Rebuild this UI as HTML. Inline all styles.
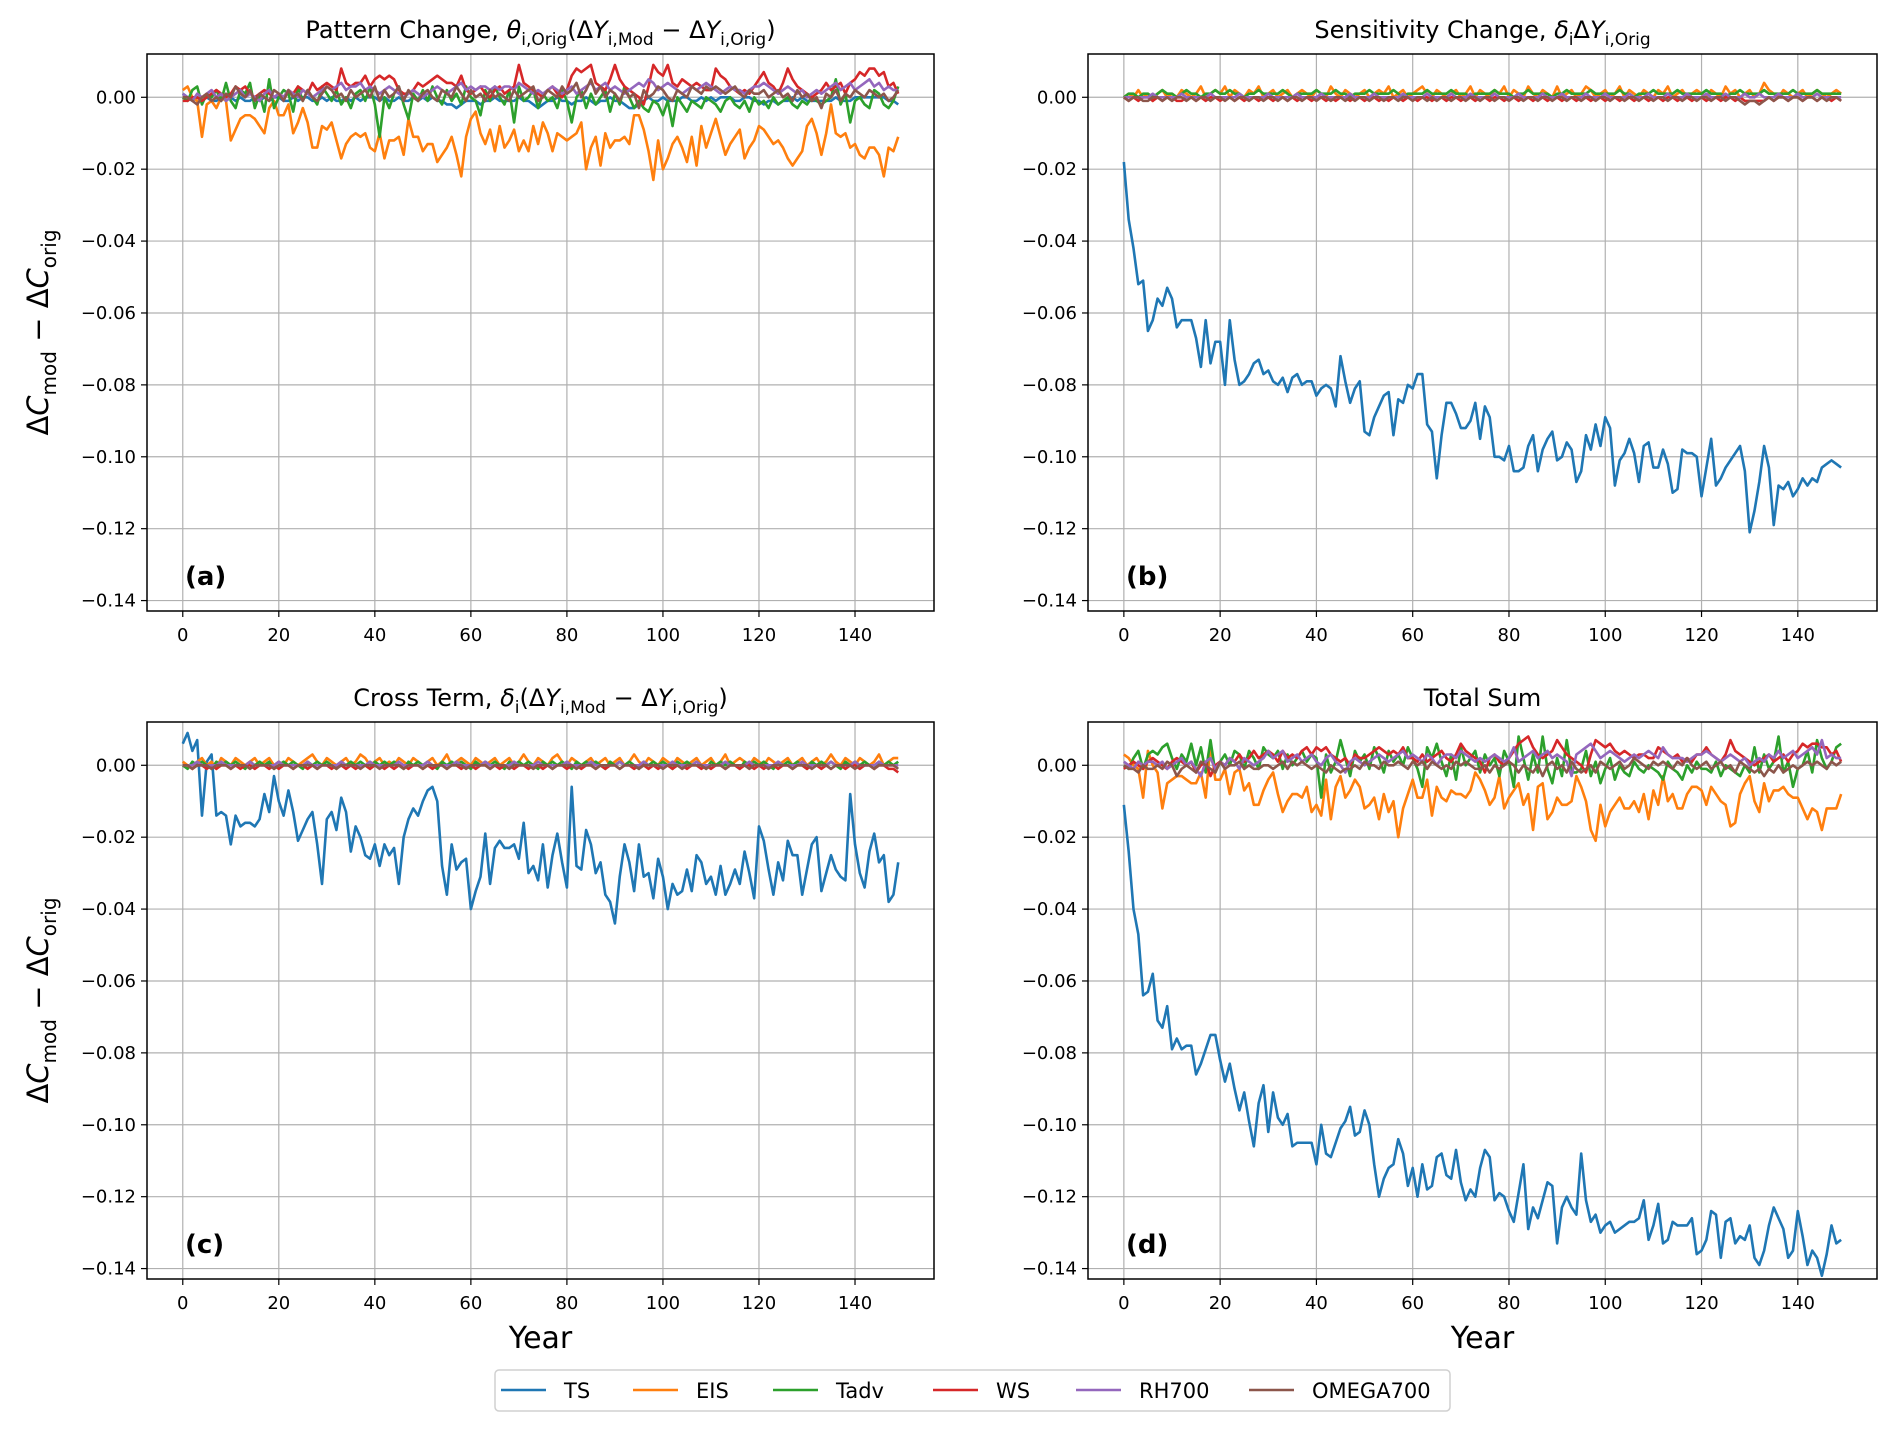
<!DOCTYPE html>
<html><head><meta charset="utf-8"><style>
html,body{margin:0;padding:0;background:#fff;}
svg{display:block;font-family:"DejaVu Sans","Liberation Sans",sans-serif;}
</style></head><body>
<svg id="fig" width="1892" height="1433" viewBox="0 0 1892 1433" xmlns="http://www.w3.org/2000/svg"></svg>
<script>
// values in thousandths (x 0.001)
const years = Array.from({length:150},(_,i)=>i);
const xTicks = [0,20,40,60,80,100,120,140];
const yTicks = [0,-0.02,-0.04,-0.06,-0.08,-0.10,-0.12,-0.14];
const yTickLabels = ["0.00","\u22120.02","\u22120.04","\u22120.06","\u22120.08","\u22120.10","\u22120.12","\u22120.14"];
const seriesNames = ["TS","EIS","Tadv","WS","RH700","OMEGA700"];
const seriesColors = ["#1f77b4","#ff7f0e","#2ca02c","#d62728","#9467bd","#8c564b"];

const aTS = [1,0,-1,0,-1,0,-1,-1,0,-1, 0,-1,0,-1,-1,0,-1,0,-1,0, 0,-1,-1,0,-1,0,0,-1,-1,0, -1,0,-1,-1,0,-1,0,-1,0,0, 0,-1,0,-1,-1,0,-1,-1,0,-1, 0,-1,0,-1,-1,-2,-2,-3,-2,-1, -1,-1,-2,-1,-1,0,-1,-1,-1,-1, 0,-1,-1,-2,-3,-2,-1,-1,0,-1, -1,-2,-1,-1,0,-1,-2,-1,-1,0, -1,-1,-2,-3,-3,-2,-1,0,-1,-1, 0,-1,-1,-1,0,0,-1,-1,0,-1, 0,-1,0,0,0,-1,-1,0,0,-1, -1,-2,-1,-1,-2,-1,-1,0,-1,0, -1,-1,-1,-1,-1,-1,0,-1,-1,-1, 0,0,0,0,0,0,0,-1,-1,-2];
const aEIS = [2,3,0,-1,-11,-2,-1,-3,0,-1, -12,-9,-6,-5,-5,-6,-8,-10,-3,-1, -5,-5,-2,-10,-7,-3,-7,-14,-14,-8, -9,-7,-12,-17,-13,-11,-10,-11,-10,-14, -15,-10,-17,-12,-12,-11,-16,-6,-11,-11, -15,-13,-13,-18,-16,-14,-11,-16,-22,-11, -6,-4,-10,-13,-9,-15,-8,-14,-12,-9, -15,-12,-15,-8,-13,-7,-10,-15,-10,-11, -12,-11,-10,-7,-20,-14,-11,-19,-10,-14, -12,-12,-11,-13,-5,-5,-9,-15,-23,-12, -20,-17,-13,-11,-14,-18,-11,-19,-8,-14, -10,-6,-11,-16,-13,-11,-9,-17,-14,-12, -8,-9,-11,-13,-12,-14,-17,-19,-17,-15, -8,-6,-10,-16,-10,-2,-10,-11,-10,-14, -13,-16,-17,-14,-14,-16,-22,-14,-15,-11];
const aTadv = [0,-1,2,3,-2,1,0,2,-1,4, -1,-3,2,1,4,-3,1,-4,5,-3, 0,2,1,-4,3,-1,2,0,-2,3, 1,-1,2,-2,0,-3,1,2,-1,3, -2,-11,0,-3,1,3,-2,-6,1,-1, 2,-1,3,0,-2,2,-1,1,-2,3, 0,-1,-5,2,-1,3,0,-2,2,-7, 3,-1,0,2,-3,1,-1,0,-3,2, -1,-7,0,2,-3,1,-2,0,2,-4, 1,-2,3,0,-3,-1,-3,-4,-1,-2, -5,-1,-8,0,-2,-4,-1,-2,-3,0, -1,-2,-4,-1,0,-2,-3,-1,-4,0, -2,-1,-3,0,-2,-1,0,-2,-3,-1, -2,0,-1,-2,-1,0,5,-2,1,-7, -1,0,-2,-3,2,1,-2,-3,-1,3];
const aWS = [-1,-1,0,0,-1,0,1,2,1,0, 1,3,2,3,1,0,1,2,1,0, 1,0,2,1,3,2,1,4,2,3, 4,3,2,8,4,3,4,4,6,3, 5,6,5,6,5,2,1,1,2,4, 3,4,5,6,5,4,4,3,6,2, 1,2,3,1,0,2,3,1,2,3, 9,4,3,2,1,0,2,3,1,0, 2,6,8,7,8,9,4,3,2,5, 9,5,3,2,1,0,-2,3,9,7, 6,9,4,3,5,4,3,4,3,2, 2,8,6,5,3,2,1,2,1,3, 5,7,4,3,1,4,8,5,3,2, 1,0,1,2,4,2,3,4,1,4, 5,7,6,8,8,6,7,3,4,1];
const aRH = [1,0,-1,1,0,1,2,0,1,-1, 0,1,2,0,1,0,-1,1,2,0, 1,0,2,1,0,2,1,0,1,2, 3,2,3,4,2,3,3,4,2,3, 2,1,2,3,2,1,0,1,2,1, 0,1,2,3,2,1,2,3,4,2, 3,2,3,3,2,3,2,3,3,2, 4,3,2,1,2,1,2,3,2,1, 2,3,1,2,3,4,2,3,4,2, 3,2,1,2,3,4,3,5,4,2, 3,4,3,2,1,2,3,2,3,4, 3,2,1,2,3,2,2,1,2,3, 3,4,3,2,1,2,3,2,1,2, 0,1,2,1,2,3,4,2,3,4, 2,3,4,5,3,4,2,3,2,2];
const aOM = [0,0,-1,-2,0,1,-1,0,-1,1, 0,3,1,0,2,-1,1,0,-1,2, 1,-1,2,0,1,-1,2,0,-1,1, 3,2,0,1,-1,2,0,1,2,0, 3,-1,2,0,1,3,-1,2,0,-1, 1,2,0,-1,2,1,0,3,1,-1, 2,0,1,-1,2,0,1,0,-1,2, 0,1,2,3,-1,0,2,1,0,3, 1,2,4,0,2,5,1,3,0,2, 1,-1,2,0,1,-3,2,0,1,3, 2,0,-1,2,1,0,3,2,1,3, 2,3,2,1,2,3,1,0,2,1, 1,2,0,1,2,0,1,-1,2,0, 1,-1,0,-3,1,0,2,-1,1,0, 2,1,0,2,1,0,1,-1,0,2];

const bTS = [-18,-34,-42,-52,-51,-65,-62,-56,-58,-53, -56,-64,-62,-62,-62,-67,-75,-62,-74,-68, -68,-80,-62,-73,-80,-79,-77,-74,-73,-77, -76,-79,-80,-78,-82,-78,-77,-80,-79,-79, -83,-81,-80,-81,-86,-72,-79,-85,-81,-79, -93,-94,-89,-86,-83,-82,-94,-84,-85,-80, -81,-77,-77,-91,-93,-106,-94,-85,-85,-88, -92,-92,-90,-85,-95,-86,-89,-100,-100,-101, -97,-104,-104,-103,-97,-94,-104,-98,-95,-93, -101,-100,-96,-98,-107,-104,-94,-98,-91,-97, -89,-92,-108,-101,-99,-95,-99,-107,-97,-96, -103,-103,-98,-102,-110,-109,-98,-99,-99,-100, -111,-103,-95,-108,-106,-103,-101,-99,-97,-104, -121,-115,-107,-97,-103,-119,-108,-109,-107,-111, -109,-106,-108,-106,-107,-103,-102,-101,-102,-103];
const bEIS = [0,1,0,2,0,1,-1,1,2,0, 1,0,2,1,0,1,3,0,1,2, 1,3,0,2,1,0,2,1,3,0, 1,2,0,1,2,0,1,2,1,0, 2,1,0,3,1,0,2,1,0,1, 2,0,1,2,1,3,0,1,2,0, 1,2,3,1,0,2,1,0,1,2, 0,1,3,0,2,1,0,2,1,3, 0,2,1,0,3,1,0,2,1,0, 3,0,1,2,0,1,3,2,0,1, 2,0,1,3,0,2,1,0,2,1, 0,2,1,3,0,1,2,0,1,2, 1,0,2,1,0,3,1,2,0,1, 2,0,1,4,2,1,0,2,1,0, 1,2,0,1,2,1,0,1,2,1];
const bTadv = [0,1,1,0,1,1,0,1,2,1, 1,0,1,2,1,1,0,1,1,2, 1,1,2,1,1,0,1,1,2,1, 1,1,1,2,1,0,1,1,1,1, 2,1,1,1,2,1,1,0,1,1, 1,2,1,1,1,1,2,1,0,1, 1,1,1,2,1,1,1,1,2,1, 1,1,0,1,1,1,1,2,1,1, 1,0,1,1,2,1,1,1,1,0, 1,1,2,1,1,1,1,2,1,1, 1,1,1,2,1,1,0,1,1,1, 2,1,1,1,1,2,1,1,1,1, 1,2,1,1,1,0,1,1,2,1, 1,1,1,2,1,1,1,1,1,2, 1,1,1,1,2,1,1,1,1,1];
const bWS = [0,-1,0,-1,0,0,-1,0,-1,0, 0,-1,-1,0,0,-1,0,-1,0,0, -1,0,0,-1,0,-1,0,0,-1,0, 0,-1,0,0,-1,0,-1,0,0,-1, 0,0,-1,0,-1,0,0,-1,0,0, -1,0,0,-1,0,-1,0,0,-1,0, 0,-1,0,0,-1,0,0,-1,0,0, -1,0,0,-1,0,0,-1,0,0,-1, 0,0,-1,0,0,-1,0,0,-1,0, 0,-1,0,0,-1,0,0,-1,0,0, -1,0,0,-1,0,0,-1,0,0,-1, 0,0,-1,0,0,-1,0,0,-1,0, 0,-1,0,0,-1,0,0,-1,0,-1, -1,-1,-1,-1,0,-1,0,0,-1,0, 0,-1,0,0,-1,0,0,-1,0,-1];
const bRH = [0,0,0,0,0,0,1,0,0,0, 0,0,1,0,0,0,0,0,1,0, 0,0,0,0,1,0,0,0,0,0, 1,0,0,0,0,0,1,0,0,0, 0,1,0,0,0,0,0,1,0,0, 0,0,1,0,0,0,0,0,1,0, 0,0,0,1,0,0,0,0,1,0, 0,0,1,0,0,0,0,1,0,0, 0,0,1,0,0,0,0,1,0,0, 0,1,0,0,0,0,1,0,0,0, 1,0,0,0,0,1,0,0,0,1, 0,0,0,1,0,0,0,1,0,0, 0,1,0,0,0,1,0,0,0,1, 0,0,1,0,0,0,1,0,0,0, 1,0,0,0,1,0,0,0,0,0];
const bOM = [0,-1,0,0,-1,-1,0,0,-1,0, -1,0,0,-1,0,-1,0,0,-1,0, 0,-1,0,-1,0,0,-1,0,0,-1, 0,0,-1,0,-1,0,0,-1,0,0, -1,0,0,-1,0,0,-1,0,-1,0, 0,-1,0,0,-1,0,0,-1,0,0, -1,0,0,-1,0,-1,0,0,-1,0, 0,-1,0,0,-1,0,0,-1,0,0, -1,0,0,-1,0,0,-1,0,0,-1, 0,0,-1,0,0,-1,0,0,-1,0, 0,-1,0,0,-1,0,0,-1,0,0, -1,0,0,-1,0,0,-1,0,0,-1, 0,0,-1,0,0,-1,0,0,-1,-2, -1,-1,-2,-1,0,-1,0,0,-1,0, 0,-1,0,0,-1,0,-1,0,0,-1];

const cTS = [6,9,4,7,-14,1,3,-14,-13,-14, -22,-14,-17,-16,-16,-17,-15,-8,-13,-3, -10,-14,-7,-13,-21,-18,-15,-13,-22,-33, -15,-13,-18,-9,-13,-24,-17,-20,-25,-26, -22,-28,-22,-25,-23,-33,-20,-15,-12,-14, -10,-7,-6,-10,-28,-36,-22,-29,-27,-26, -40,-35,-31,-19,-33,-23,-21,-23,-23,-22, -26,-16,-30,-28,-32,-22,-34,-25,-19,-27, -34,-6,-28,-29,-18,-22,-30,-27,-36,-38, -44,-31,-22,-27,-35,-22,-31,-30,-37,-26, -31,-40,-33,-36,-35,-29,-35,-25,-27,-33, -31,-36,-28,-36,-33,-29,-33,-24,-30,-37, -17,-21,-29,-36,-27,-32,-21,-25,-25,-36, -29,-22,-20,-35,-30,-25,-29,-31,-32,-8, -22,-30,-34,-24,-19,-27,-25,-38,-36,-27];
const cEIS = [1,0,-1,1,2,0,1,-1,2,1, 0,2,1,0,1,2,0,1,2,0, 1,0,2,1,0,1,2,3,1,0, 2,1,0,1,2,0,1,3,2,0, 1,2,0,1,0,2,1,0,2,1, 0,1,2,0,1,3,0,1,2,1, 0,2,1,0,1,2,0,1,2,0, 1,3,1,0,2,1,0,2,3,1, 0,2,1,0,1,2,0,1,2,0, 1,2,0,1,3,1,0,2,1,0, 2,1,0,2,1,0,1,2,0,1, 2,0,1,3,0,1,2,1,0,2, 1,0,2,1,0,1,2,0,1,2, 0,1,2,0,1,3,1,0,2,1, 0,2,1,0,1,3,0,1,2,2];
const cTadv = [0,-1,1,0,1,0,-1,1,0,1, 0,1,0,-1,1,0,1,0,1,-1, 0,1,0,1,0,-1,1,0,1,0, 1,0,-1,1,0,1,0,1,0,-1, 1,0,1,0,1,0,-1,1,0,1, 0,1,0,-1,1,0,1,0,1,0, -1,1,0,1,0,1,0,-1,1,0, 1,0,1,0,-1,1,0,1,0,1, 0,-1,1,0,1,0,1,0,-1,1, 0,1,0,1,0,-1,1,0,1,0, 1,0,-1,1,0,1,0,1,0,-1, 1,0,1,0,1,0,-1,1,0,1, 0,1,0,-1,1,0,1,0,1,0, -1,1,0,1,0,1,0,-1,1,0, 1,0,1,0,-1,1,0,1,0,1];
const cWS = [0,0,-1,0,0,-1,0,-1,0,0, -1,0,-1,0,0,-1,0,0,-1,0, -1,0,0,-1,0,0,-1,0,-1,0, 0,-1,0,0,-1,0,-1,0,0,-1, 0,0,-1,0,-1,0,0,-1,0,0, -1,0,-1,0,0,-1,0,0,-1,0, 0,-1,0,0,-1,0,-1,0,0,-1, 0,0,-1,0,0,-1,0,-1,0,0, -1,0,0,-1,0,0,-1,0,-1,0, 0,-1,0,0,-1,0,0,-1,0,-1, 0,0,-1,0,0,-1,0,0,-1,0, -1,0,0,-1,0,0,-1,0,0,-1, 0,-1,0,0,-1,0,0,-1,0,0, -1,0,0,-1,0,-1,0,0,-1,0, 0,-1,0,0,-1,0,0,-1,-1,-2];
const cRH = [0,0,0,1,0,0,0,0,1,0, 0,0,0,0,1,0,0,0,0,0, 1,0,0,0,0,0,1,0,0,0, 0,0,0,1,0,0,0,0,0,1, 0,0,0,0,0,1,0,0,0,0, 0,1,0,0,0,0,0,1,0,0, 0,0,0,1,0,0,0,0,0,1, 0,0,0,0,1,0,0,0,0,0, 1,0,0,0,0,1,0,0,0,0, 0,1,0,0,0,0,1,0,0,0, 0,0,1,0,0,0,0,1,0,0, 0,0,0,1,0,0,0,0,1,0, 0,0,0,0,1,0,0,0,0,1, 0,0,0,0,0,1,0,0,0,0, 1,0,0,0,0,1,0,0,0,0];
const cOM = [0,0,-1,0,0,0,-1,0,0,0, -1,0,0,0,-1,0,0,0,0,-1, 0,0,0,-1,0,0,0,0,-1,0, 0,0,-1,0,0,0,0,-1,0,0, 0,-1,0,0,0,0,-1,0,0,0, -1,0,0,0,0,-1,0,0,0,-1, 0,0,0,0,-1,0,0,0,-1,0, 0,0,0,-1,0,0,0,-1,0,0, 0,0,-1,0,0,0,-1,0,0,0, 0,-1,0,0,0,-1,0,0,0,0, -1,0,0,0,-1,0,0,0,0,-1, 0,0,0,-1,0,0,0,0,-1,0, 0,0,-1,0,0,0,0,-1,0,0, 0,-1,0,0,0,-1,0,0,0,0, -1,0,0,0,-1,0,0,0,0,-1];

const dTS = [-11,-24,-40,-47,-64,-63,-58,-71,-73,-67, -79,-76,-79,-78,-78,-86,-83,-79,-75,-75, -82,-88,-83,-90,-96,-91,-99,-106,-94,-89, -102,-91,-98,-100,-97,-106,-105,-105,-105,-105, -111,-100,-108,-109,-105,-101,-99,-95,-103,-102, -96,-100,-111,-120,-115,-112,-111,-104,-108,-117, -112,-120,-111,-118,-117,-109,-108,-114,-115,-107, -116,-121,-118,-120,-112,-107,-109,-121,-119,-120, -124,-127,-119,-111,-129,-123,-126,-121,-116,-117, -133,-123,-120,-123,-125,-108,-121,-127,-125,-130, -128,-127,-130,-129,-128,-127,-127,-126,-121,-132, -128,-122,-133,-132,-127,-128,-128,-128,-126,-136, -135,-132,-124,-125,-137,-127,-126,-133,-131,-132, -128,-137,-139,-135,-128,-123,-126,-129,-137,-135, -124,-131,-139,-135,-137,-142,-136,-128,-133,-132];
const dEIS = [3,2,0,-1,-9,4,0,-2,-12,-5, -4,-3,-3,-4,-5,-5,-2,-9,6,-4, -4,-1,-8,-2,-1,-7,-5,-11,-11,-7, -4,-2,-8,-13,-10,-8,-8,-9,-6,-13, -11,-14,-4,-15,-6,-3,-9,-7,-4,-6, -12,-11,-9,-15,-8,-13,-10,-20,-12,-8, -4,-9,-9,-4,-14,-6,-9,-10,-7,-8, -8,-9,-7,-2,-4,-7,-11,-9,-3,-12, -9,-7,-5,-11,-8,-18,-6,-5,-15,-13, -9,-11,-11,-10,-3,-6,-10,-18,-21,-11, -17,-13,-11,-9,-12,-12,-10,-13,-8,-15, -7,-11,-3,-10,-8,-12,-12,-8,-6,-6, -7,-11,-6,-8,-10,-11,-17,-16,-8,-5, -3,-10,-13,-5,-10,-7,-7,-6,-8,-9, -9,-12,-15,-12,-13,-18,-12,-12,-12,-8];
const dTadv = [0,-1,2,4,-1,3,4,3,5,6, 2,-1,3,1,6,0,5,-2,7,-2, 1,3,0,4,3,-1,4,2,-1,5, 3,2,4,-1,3,0,2,4,1,3, 2,-9,3,-2,1,7,2,-3,4,1, 3,-1,5,2,-2,4,1,3,0,5, 2,-1,-6,5,2,6,1,-3,3,-4, 5,0,2,4,-2,3,0,2,-3,4, 1,-6,8,2,-4,3,-2,8,-1,-5, 2,-3,7,-2,-2,-1,4,-3,1,-5, -1,2,-4,0,-2,-3,1,-1,-2,0, -1,-2,-4,1,-1,-2,-4,0,-2,1, -1,-1,-2,1,-3,0,-1,-2,-3,0, -2,5,-2,3,-1,1,8,-2,1,-6, -1,0,4,-2,7,2,-1,1,5,6];
const dWS = [-1,0,1,0,-1,1,2,1,0,-1, 1,2,1,0,1,-2,0,1,-3,0, 1,0,2,1,3,1,2,4,2,3, 4,3,1,4,2,3,2,4,5,3, 5,4,5,3,2,1,2,0,3,2, 2,3,4,5,4,3,4,3,5,2, 2,1,3,1,2,3,4,2,1,3, 6,4,3,2,1,-2,2,3,1,0, 2,4,6,7,8,5,3,2,3,4, 7,5,3,2,1,0,-2,3,7,6, 5,6,4,3,4,3,2,3,3,2, 2,5,4,3,2,3,1,2,1,3, 3,5,3,2,1,3,7,4,3,2, 1,0,1,2,3,1,2,3,1,3, 4,6,5,6,6,5,5,3,4,1];
const dRH = [1,0,-1,1,0,1,1,0,1,-1, 0,1,2,0,1,-1,-3,1,2,-1, 1,0,2,1,-1,2,1,0,1,2, 4,2,3,4,1,2,3,1,2,3, 1,0,2,3,1,0,-2,1,2,1, 0,1,2,3,2,1,2,3,4,2, 3,2,1,3,2,0,2,3,3,2, 4,3,2,1,2,1,2,3,2,1, 2,5,1,2,3,4,2,3,4,2, 3,2,1,-3,3,4,5,6,4,2, 3,4,3,2,1,2,3,2,3,4, 3,2,5,3,2,2,2,1,2,3, 3,4,3,2,1,2,3,2,1,2, 0,1,2,1,3,2,4,2,3,4, 2,3,4,5,3,7,2,3,2,2];
const dOM = [0,-1,-1,-2,0,-1,-1,0,-1,1, 0,-3,-1,0,-1,-2,1,0,-1,-2, 1,-1,0,0,1,-1,0,-1,-1,0, 0,-1,0,1,-1,1,0,1,0,-1, 0,-1,-2,0,-1,-2,-1,-1,0,-1, 1,0,0,-1,1,0,0,1,0,-1, 1,0,1,-1,1,0,-1,0,-1,1, 0,1,0,-1,-1,0,-2,0,-1,0, 1,0,-2,0,-1,-2,0,-3,0,1, -1,0,-2,1,-1,-2,-1,0,-2,1, 0,-1,0,1,-1,0,2,1,0,-1, 1,0,1,0,-1,1,0,2,0,-1, 0,1,-1,0,1,-1,0,-2,1,0, -1,-2,-1,-3,-1,-2,0,-2,-1,0, -1,0,1,0,1,0,-1,1,0,1];

const W=1892,H=1433,NS="http://www.w3.org/2000/svg";
const svg=document.getElementById('fig');
const XMIN=-7.45,XMAX=156.45,YMIN=-0.1429,YMAX=0.01204;
function mk(tag,attrs,parent){const e=document.createElementNS(NS,tag);for(const k in attrs)e.setAttribute(k,attrs[k]);(parent||svg).appendChild(e);return e;}

const S='font-size="17" dy="7"', U='dy="-7"';
const panels=[
 {id:'a',x0:147,x1:934,y0:54,y1:611,series:[aTS,aEIS,aTadv,aWS,aRH,aOM],title:'Pattern Change, <tspan font-style="italic">θ</tspan><tspan '+S+'>i,Orig</tspan><tspan '+U+'>(Δ</tspan><tspan font-style="italic">Y</tspan><tspan '+S+'>i,Mod</tspan><tspan '+U+'> − Δ</tspan><tspan font-style="italic">Y</tspan><tspan '+S+'>i,Orig</tspan><tspan '+U+'>)</tspan>',ylab:true,xlab:false},
 {id:'b',x0:1088,x1:1877,y0:54,y1:611,series:[bTS,bEIS,bTadv,bWS,bRH,bOM],title:'Sensitivity Change, <tspan font-style="italic">δ</tspan><tspan '+S+'>i</tspan><tspan '+U+'>Δ</tspan><tspan font-style="italic">Y</tspan><tspan '+S+'>i,Orig</tspan>',ylab:false,xlab:false},
 {id:'c',x0:147,x1:934,y0:722,y1:1279,series:[cTS,cEIS,cTadv,cWS,cRH,cOM],title:'Cross Term, <tspan font-style="italic">δ</tspan><tspan '+S+'>i</tspan><tspan '+U+'>(Δ</tspan><tspan font-style="italic">Y</tspan><tspan '+S+'>i,Mod</tspan><tspan '+U+'> − Δ</tspan><tspan font-style="italic">Y</tspan><tspan '+S+'>i,Orig</tspan><tspan '+U+'>)</tspan>',ylab:true,xlab:true},
 {id:'d',x0:1088,x1:1877,y0:722,y1:1279,series:[dTS,dEIS,dTadv,dWS,dRH,dOM],title:'Total Sum',ylab:false,xlab:true}
];

panels.forEach(p=>{
  const g=mk('g',{});
  
  
  const sx=v=>p.x0+(v-XMIN)/(XMAX-XMIN)*(p.x1-p.x0);
  const sy=v=>p.y0+(YMAX-v)/(YMAX-YMIN)*(p.y1-p.y0);
  const cp='clip-'+p.id;
  const cl=mk('clipPath',{id:cp},g);mk('rect',{x:p.x0,y:p.y0,width:p.x1-p.x0,height:p.y1-p.y0},cl);
  xTicks.forEach(t=>{
    const x=sx(t);
    const gl=mk('line',{x1:x,x2:x,y1:p.y0,y2:p.y1,stroke:'#b0b0b0','stroke-width':1.2},g);
    
    mk('line',{x1:x,x2:x,y1:p.y1,y2:p.y1+6,stroke:'#000','stroke-width':1.2},g);
    const tl=mk('text',{x:x,y:p.y1+30,'text-anchor':'middle','font-size':18,fill:'#000'},g);
    tl.textContent=t;
    
  });
  yTicks.forEach((t,i)=>{
    const y=sy(t);
    const gl=mk('line',{x1:p.x0,x2:p.x1,y1:y,y2:y,stroke:'#b0b0b0','stroke-width':1.2},g);
    
    mk('line',{x1:p.x0-6,x2:p.x0,y1:y,y2:y,stroke:'#000','stroke-width':1.2},g);
    const tl=mk('text',{x:p.x0-11,y:y+6,'text-anchor':'end','font-size':18,fill:'#000'},g);
    tl.textContent=yTickLabels[i];
    
  });
  const lg=mk('g',{'clip-path':'url(#'+cp+')'},g);
  p.series.forEach((arr,si)=>{
    const d=arr.map((v,i)=>(i?'L':'M')+sx(years[i]).toFixed(2)+','+sy(v/1000).toFixed(2)).join('');
    const pl=mk('path',{d:d,fill:'none',stroke:seriesColors[si],'stroke-width':2.6,'stroke-linejoin':'round'},lg);
    
    
  });
  const fr=mk('rect',{x:p.x0,y:p.y0,width:p.x1-p.x0,height:p.y1-p.y0,fill:'none',stroke:'#000','stroke-width':1.5},g);
  
  const ti=mk('text',{x:(p.x0+p.x1)/2,y:p.y0-16,'text-anchor':'middle','font-size':24,fill:'#000'},g);
  ti.innerHTML=p.title;
  
  const pla=mk('text',{x:p.x0+38,y:p.y1-26,'font-size':26,'font-weight':'bold',fill:'#000'},g);
  pla.textContent='('+p.id+')';
  
  if(p.ylab){
    const cy=(p.y0+p.y1)/2;
    const yl=mk('text',{x:0,y:0,'text-anchor':'middle','font-size':29,fill:'#000',transform:'translate(48,'+cy+') rotate(-90)'},g);
    yl.innerHTML='Δ<tspan font-style="italic">C</tspan><tspan font-size="20" dy="8">mod</tspan><tspan dy="-8"> − Δ</tspan><tspan font-style="italic">C</tspan><tspan font-size="20" dy="8">orig</tspan>';
    
  }
  if(p.xlab){
    const xl=mk('text',{x:(p.x0+p.x1)/2,y:1348,'text-anchor':'middle','font-size':30,fill:'#000'},g);
    xl.textContent='Year';
    
  }
});

// legend
const leg=mk('g',{});


mk('rect',{x:495,y:1370,width:955,height:41,rx:4,fill:'#fff',stroke:'#d0d0d0','stroke-width':1.5},leg);
const legLineX=[501,633,773,933,1076,1249];
seriesNames.forEach((n,i)=>{
  const e=mk('g',{},leg);
  
  
  mk('line',{x1:legLineX[i],x2:legLineX[i]+45,y1:1390,y2:1390,stroke:seriesColors[i],'stroke-width':2.6},e);
  const t=mk('text',{x:legLineX[i]+63,y:1398,'font-size':21,fill:'#000'},e);
  t.textContent=n;
});
</script>
</body></html>
